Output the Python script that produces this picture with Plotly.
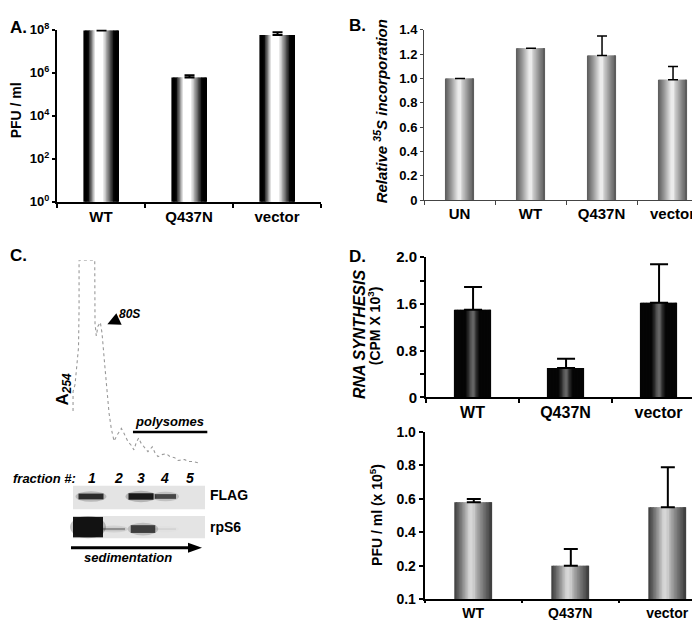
import plotly.graph_objects as go

W, H = 700, 620
FONT = "Liberation Sans, Arial, Helvetica, sans-serif"

# ---------------- data ----------------
a_cats = ["WT", "Q437N", "vector"]
a_pfu = [9.0e7, 6.0e5, 5.7e7]
a_pfu_err = [1.5e7, 1.6e5, 1.8e7]

b_cats = ["UN", "WT", "Q437N", "vector"]
b_incorp = [1.00, 1.25, 1.19, 0.99]
b_err = [0.0, 0.0, 0.16, 0.11]

d_cats = ["WT", "Q437N", "vector"]
d_rna = [1.50, 0.50, 1.62]
d_rna_err = [0.39, 0.16, 0.66]
d_pfu = [0.58, 0.20, 0.55]
d_pfu_err = [0.02, 0.10, 0.24]

polysome_pos = [3.6, 3.6, 5.0, 6.4, 7.5, 7.9, 7.9,
                19.1, 19.3, 20.2, 21.4, 23.1, 24.3, 26.2,
                28.6, 29.3, 30.9, 32.9, 35.0, 38.1, 40.0, 42.9, 45.0, 47.1,
                48.9, 50.5, 52.1, 54.8, 57.1, 60.2, 62.1, 64.3, 67.1, 70.2,
                72.9, 76.2, 78.6, 83.4, 85.7, 89.3, 92.1, 94.8]
polysome_a254 = [0.262, 0.357, 0.390, 0.476, 0.571, 0.762, 1.0,
                 1.0, 0.690, 0.629, 0.676, 0.695, 0.643, 0.490,
                 0.310, 0.252, 0.176, 0.114, 0.143, 0.176, 0.152, 0.110, 0.095, 0.071,
                 0.110, 0.129, 0.105, 0.081, 0.062, 0.086, 0.057, 0.038, 0.048, 0.052,
                 0.038, 0.033, 0.019, 0.024, 0.014, 0.014, 0.010, 0.005]

fractions = ["1", "2", "3", "4", "5"]
flag_signal = [0.85, 0.0, 0.95, 0.70, 0.0]
rps6_signal = [1.0, 0.35, 0.75, 0.06, 0.0]


# ---------------- helpers ----------------
def px(x):
    return x / W


def py(y):
    return 1 - y / H


def gray(v):
    v = int(max(0, min(255, round(v))))
    return f"rgb({v},{v},{v})"


def ramp(t, a0, a1, b0, b1):
    if t <= a0 or t >= b1:
        return 0.0
    if t < a1:
        return (t - a0) / (a1 - a0)
    if t <= b0:
        return 1.0
    return (b1 - t) / (b1 - b0)


def shade_a(t):
    return gray(255 * ramp(t, 0.13, 0.34, 0.55, 0.87))


def shade_b(t):
    return gray(80 + 155 * ramp(t, -0.05, 0.45, 0.5, 1.05) ** 1.2)


def shade_d1(t):
    return gray(5 + 95 * ramp(t, 0.3, 0.48, 0.52, 0.7) ** 1.3)


def shade_d2(t):
    return gray(55 + 160 * ramp(t, -0.03, 0.4, 0.46, 1.03) ** 1.2)


fig = go.Figure()


def gradient_bars(cats, vals, errs, xa, ya, width, shade, ethick, ewidth, n=25,
                  overlap=0.012):
    mid = n // 2
    order = [i for i in range(n) if i != mid] + [mid]
    step = width / n
    for i in order:
        t = (i + 0.5) / n
        c = shade(t)
        kw = {}
        if i == mid:
            kw["error_y"] = dict(type="data", array=errs, arrayminus=[0] * len(errs),
                                 symmetric=False, color="black",
                                 thickness=ethick, width=ewidth)
        w = step if i == n - 1 else step + overlap
        fig.add_trace(go.Bar(
            x=cats, y=vals, xaxis=xa, yaxis=ya,
            width=w, offset=-width / 2 + i * step,
            marker=dict(color=c, line=dict(width=0)),
            showlegend=False, hoverinfo="skip", **kw))


gradient_bars(a_cats, a_pfu, a_pfu_err, "x", "y", 0.40, shade_a, 2, 5)
gradient_bars(b_cats, b_incorp, b_err, "x2", "y2", 0.41, shade_b, 1.5, 5, overlap=0.015)
gradient_bars(d_cats, d_rna, d_rna_err, "x3", "y3", 0.40, shade_d1, 2, 9)
gradient_bars(d_cats, d_pfu, d_pfu_err, "x4", "y4", 0.39, shade_d2, 2, 7)

# polysome profile
fig.add_trace(go.Scatter(x=polysome_pos, y=polysome_a254, xaxis="x5", yaxis="y5",
                         mode="lines", line=dict(color="#999999", width=1.1, dash="dot"),
                         showlegend=False, hoverinfo="skip"))


def tf(size):
    return dict(family=FONT, size=size, color="black", weight="bold")


xcat = dict(type="category", showline=True, linecolor="black", ticks="outside",
            tickson="boundaries", tickcolor="black", showgrid=False, zeroline=False,
            fixedrange=True)
ylin = dict(showline=True, linecolor="black", ticks="outside", tickcolor="black",
            showgrid=False, zeroline=False, fixedrange=True)

fig.update_layout(
    width=W, height=H, margin=dict(l=0, r=0, t=0, b=0),
    paper_bgcolor="white", plot_bgcolor="rgba(0,0,0,0)",
    barmode="overlay", font=dict(family=FONT, color="black"),
    xaxis=dict(xcat, domain=[px(49), px(313)], range=[-0.5, 2.5], linewidth=2,
               tickwidth=2, ticklen=4, anchor="y", tickfont=tf(15)),
    yaxis=dict(ylin, type="log", range=[0, 8], domain=[py(190), py(13)], linewidth=2,
               tickwidth=2, ticklen=3, anchor="x", tickfont=tf(13),
               tickvals=[1, 1e2, 1e4, 1e6, 1e8],
               ticktext=["10<sup>0</sup>", "10<sup>2</sup>", "10<sup>4</sup>",
                         "10<sup>6</sup>", "10<sup>8</sup>"]),
    xaxis2=dict(xcat, domain=[px(416), 1.0], range=[-0.5, 3.5], linewidth=1,
                tickwidth=1, ticklen=4, anchor="y2", linecolor="#444", tickcolor="#444",
                tickfont=tf(15)),
    yaxis2=dict(ylin, range=[0, 1.4], domain=[py(188.3), py(13.3)], linewidth=1,
                tickwidth=1, ticklen=3, anchor="x2", linecolor="#444", tickcolor="#444",
                tickfont=tf(13),
                tickvals=[0, 0.2, 0.4, 0.6, 0.8, 1.0, 1.2, 1.4],
                ticktext=["0", "0.2", "0.4", "0.6", "0.8", "1.0", "1.2", "1.4"]),
    xaxis3=dict(xcat, domain=[px(418), px(697)], range=[-0.5, 2.5], linewidth=2,
                tickwidth=2, ticklen=4, anchor="y3", tickfont=tf(16)),
    yaxis3=dict(ylin, range=[0, 2.4], domain=[py(391), py(247)], linewidth=2,
                tickwidth=2, ticklen=4, anchor="x3", tickfont=tf(15),
                tickvals=[0, 0.8, 1.6, 2.4], ticktext=["0", "0.8", "1.6", "2.0"],
                minor=dict(tickvals=[0.4, 1.2, 2.0], ticks="outside", ticklen=4,
                           tickwidth=2, tickcolor="black", showgrid=False)),
    xaxis4=dict(xcat, domain=[px(416.7), 1.0], range=[-0.5, 2.42], linewidth=2,
                tickwidth=2, ticklen=2, anchor="y4", tickfont=tf(14)),
    yaxis4=dict(ylin, range=[0, 1.0], domain=[py(598.7), py(426.7)], linewidth=2,
                tickwidth=2, ticklen=4, anchor="x4", tickfont=tf(14),
                tickvals=[0, 0.2, 0.4, 0.6, 0.8, 1.0],
                ticktext=["0.1", "0.2", "0.4", "0.6", "0.8", "1.0"]),
    xaxis5=dict(domain=[px(60), px(200)], range=[0, 100], visible=False, anchor="y5",
                fixedrange=True),
    yaxis5=dict(domain=[py(460), py(250)], range=[0, 1], visible=False, anchor="x5",
                fixedrange=True),
)

ann = []


def text(x, y, s, size=14, xanchor="center", angle=0, **kw):
    ann.append(dict(x=px(x), y=py(y), xref="paper", yref="paper", text=s,
                    showarrow=False, xanchor=xanchor, yanchor="middle",
                    textangle=angle, font=dict(family=FONT, size=size, color="black"),
                    **kw))


# panel letters
text(0, 11, "<b>A.</b>", 17, "left")
text(339, 9, "<b>B.</b>", 17, "left")
text(0, 245, "<b>C.</b>", 17, "left")
text(339, 246, "<b>D.</b>", 17, "left")

# axis titles
text(8, 96, "<b>PFU / ml</b>", 14, angle=-90)
text(372, 97, "<b><i>Relative <sup>35</sup>S incorporation</i></b>", 15, angle=-90)
text(351, 326, "<b><i>RNA SYNTHESIS</i></b>", 16, angle=-90)
text(366, 318, "<b>(CPM X 10<sup>3</sup>)</b>", 14, angle=-90)
text(368, 512, "<b>PFU / ml (x 10<sup>5</sup>)</b>", 14, angle=-90)

# panel C texts
text(56, 383, "<b>A<sub><i>254</i></sub></b>", 17, angle=-90)
ann.append(dict(x=28.1, y=0.686, xref="x5", yref="y5", text="<b><i>80S</i></b>",
                showarrow=True, arrowhead=2, arrowsize=1.6, arrowwidth=1.6,
                arrowcolor="black", ax=22, ay=-10, standoff=0,
                font=dict(family=FONT, size=12, color="black")))
text(161, 416, "<b><i>polysomes</i></b>", 13)
text(3, 474, "<b><i>fraction #:</i></b>", 13, "left")
lane_px = [84.3, 110, 133.3, 156.7, 181.7]
for lx, f in zip(lane_px, fractions):
    text(lx, 474, f"<b><i>{f}</i></b>", 14)
text(200, 491, "<b>FLAG</b>", 14, "left")
text(200, 524, "<b>rpS6</b>", 14, "left")
text(120, 556, "<b><i>sedimentation</i></b>", 13)

shapes = []
# polysome bar
shapes.append(dict(type="line", xref="x5", yref="y5", x0=46.4, x1=99.5, y0=0.159,
                   y1=0.159, line=dict(color="black", width=2.5)))
# blot backgrounds
for y0, y1 in [(482, 506), (513, 536)]:
    shapes.append(dict(type="rect", xref="paper", yref="paper", x0=px(65), x1=px(197),
                       y0=py(y1), y1=py(y0), fillcolor="#e4e4e4", line=dict(width=0),
                       layer="below"))


def band(cx, cy, hw, h, s, top=None, bottom=None):
    y_lo = cy + h / 2 + 2.5
    y_hi = cy - h / 2 - 2.5
    if bottom is not None:
        y_lo = min(y_lo, bottom)
    if top is not None:
        y_hi = max(y_hi, top)
    shapes.append(dict(type="circle", xref="paper", yref="paper",
                       x0=px(cx - hw - 3), x1=px(cx + hw + 3),
                       y0=py(y_lo), y1=py(y_hi),
                       fillcolor="black", opacity=0.22 * s, line=dict(width=0)))
    shapes.append(dict(type="rect", xref="paper", yref="paper",
                       x0=px(cx - hw), x1=px(cx + hw),
                       y0=py(cy + h / 2), y1=py(cy - h / 2),
                       fillcolor="black", opacity=0.9 * s, line=dict(width=0)))


flag_cx = [83, 106, 133, 157.5, 181]
for cx, s in zip(flag_cx, flag_signal):
    if s > 0:
        band(cx, 493, 12.5 if s > 0.8 else 10.5, 7 * s, s, 482, 506)

rps6_cx = [80, 106, 135, 157, 181]
for cx, s in zip(rps6_cx, rps6_signal):
    if s > 0:
        band(cx, 524.5 if s > 0.9 else 526.5, 11 + 4 * s ** 4, 2 + 19 * s ** 4, s,
             513, 536)

# sedimentation arrow
shapes.append(dict(type="line", xref="paper", yref="paper", x0=px(63), x1=px(182),
                   y0=py(545.7), y1=py(545.7), line=dict(color="black", width=3)))
shapes.append(dict(type="path", xref="paper", yref="paper",
                   path=f"M {px(180)} {py(540.5)} L {px(194)} {py(545.7)} L {px(180)} {py(550.9)} Z",
                   fillcolor="black", line=dict(width=0)))

fig.update_layout(annotations=ann, shapes=shapes)
fig.write_html("out.html")
